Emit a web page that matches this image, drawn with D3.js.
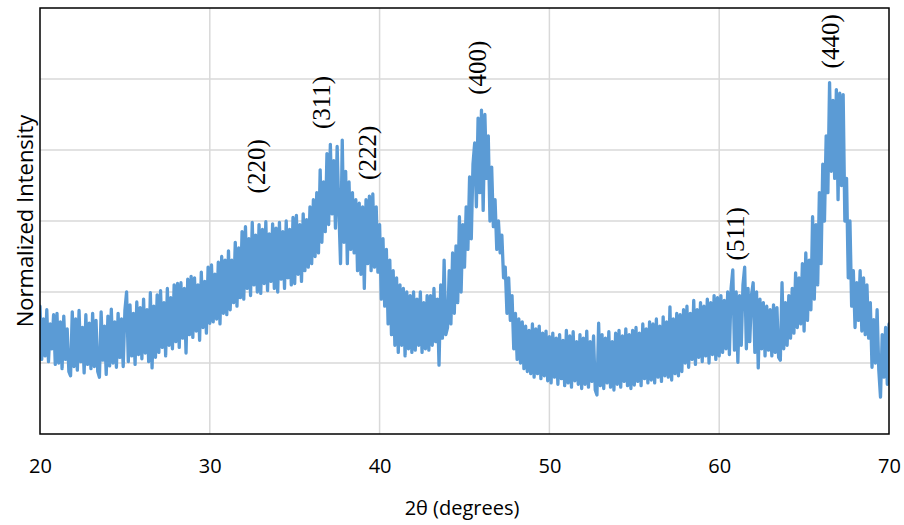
<!DOCTYPE html>
<html><head><meta charset="utf-8">
<script src="https://cdn.jsdelivr.net/npm/d3@7"></script>
<style>html,body{margin:0;padding:0;background:#fff;}</style>
</head><body>
<svg id="chart" width="904" height="525"></svg>
<script>
// 2θ sampling of the pattern
const angleStart = 20;
const angleStep = 0.1;
// Normalized intensity, one row per degree (20.0 .. 70.0)
const intensity = [
1.80,1.05,1.62,1.10,1.75,1.02,1.55,1.20,1.68,0.98,
1.70,1.00,1.58,0.92,1.66,1.05,1.48,0.88,0.82,1.72,
0.95,1.62,0.90,1.74,1.02,1.50,0.86,1.68,0.98,1.56,
0.92,1.70,0.95,1.60,0.88,0.80,1.72,1.04,1.52,0.84,
1.66,0.96,1.76,1.00,1.58,0.94,1.70,1.08,1.62,0.95,
1.74,2.00,1.02,1.82,1.10,1.70,0.98,1.86,1.12,1.78,
1.06,1.90,1.14,1.75,1.02,1.99,0.93,1.80,1.08,1.96,
1.15,2.02,1.22,1.85,1.10,2.05,1.25,1.92,1.20,2.10,
1.30,2.12,1.22,2.13,1.35,2.05,1.14,2.18,1.40,2.22,
1.36,2.20,1.45,2.10,1.32,2.28,1.50,2.15,1.42,2.35,
1.56,2.38,1.58,2.25,1.62,2.42,1.55,2.50,1.70,2.45,
1.68,2.58,1.75,2.45,1.85,2.70,1.80,2.62,1.92,2.85,
1.90,2.92,2.05,2.75,1.95,2.98,2.10,2.80,2.00,2.95,
1.98,2.88,2.12,2.99,2.02,2.82,2.15,2.96,2.05,2.90,
2.00,2.98,2.18,2.85,2.05,3.00,2.20,2.88,2.10,3.05,
2.12,3.08,2.25,2.95,2.15,3.10,2.30,3.02,2.35,3.20,
2.40,3.30,2.50,3.40,2.55,3.72,2.70,3.55,2.85,3.95,
2.95,4.08,3.10,3.85,2.90,4.05,3.15,2.40,4.14,2.70,
3.70,2.40,3.55,2.60,3.40,2.55,3.30,2.30,3.25,2.25,
3.20,2.05,3.30,2.40,3.35,2.30,3.38,2.35,3.20,2.28,
2.95,1.90,2.75,1.80,2.60,1.55,2.45,1.40,2.30,1.25,
2.20,1.15,2.10,1.25,2.05,1.10,2.00,1.20,1.95,1.15,
2.00,1.18,1.90,1.25,2.00,1.15,1.85,1.20,1.95,1.18,
1.95,1.25,2.05,1.30,1.90,0.97,2.10,1.35,2.45,1.40,
1.50,2.30,1.55,2.55,1.70,2.65,1.85,3.06,2.00,2.95,
2.35,3.20,2.60,3.62,2.75,3.80,4.10,3.20,4.45,3.40,
4.56,3.15,4.50,3.60,4.20,3.00,3.76,2.92,3.30,2.60,
3.00,2.55,2.80,2.20,2.35,1.70,2.20,1.60,1.95,1.20,
1.70,1.05,1.62,1.00,1.58,0.92,1.52,0.88,1.46,0.85,
1.55,0.80,1.48,0.85,1.52,0.78,1.42,0.82,1.45,0.75,
1.37,0.72,1.42,0.80,1.35,0.70,1.40,0.78,1.32,0.68,
1.46,0.72,1.38,0.66,1.44,0.75,1.30,0.70,1.40,0.64,
1.35,0.70,1.45,0.66,1.30,0.74,1.38,0.62,0.55,1.56,
0.68,1.40,0.64,1.35,0.72,1.44,0.66,1.30,0.62,1.42,
0.70,1.46,0.66,1.38,0.74,1.48,0.68,1.40,0.64,1.46,
0.69,1.50,0.74,1.42,0.68,1.55,0.78,1.48,0.72,1.58,
0.76,1.55,0.72,1.62,0.80,1.52,0.74,1.65,0.82,1.58,
0.80,1.79,0.76,1.62,0.85,1.70,0.82,1.68,0.88,1.75,
1.00,1.80,0.94,1.70,1.05,1.88,0.98,1.75,1.08,1.85,
1.02,1.80,1.10,1.90,1.00,1.85,1.12,1.95,1.05,1.92,
1.10,1.95,1.15,1.88,1.20,2.00,1.12,2.05,2.31,1.18,
2.00,1.01,1.95,1.25,2.10,2.35,1.20,2.05,1.30,1.95,
2.13,1.15,2.00,0.93,1.90,1.20,1.85,1.10,1.80,1.18,
1.75,1.10,1.82,1.15,1.78,1.08,1.04,2.13,1.20,1.85,
1.25,1.95,1.35,2.05,1.42,2.27,1.50,2.20,1.55,2.40,
1.45,2.55,1.60,2.45,1.75,3.06,1.90,2.95,2.10,3.40,
2.40,3.80,3.00,4.20,3.40,4.95,3.70,4.70,3.60,4.85,
3.30,4.80,3.50,4.78,3.00,3.60,2.20,3.00,1.80,2.30,
1.50,2.13,1.60,2.30,1.45,2.20,1.40,2.10,1.35,1.85,
0.94,1.61,1.00,1.75,0.90,0.52,1.40,0.80,1.50,0.70,
1.55
];
const xTicks = [20, 30, 40, 50, 60, 70];
const yGrid = [1, 2, 3, 4, 5];
const peakLabels = ["(220)", "(311)", "(222)", "(400)", "(511)", "(440)"];
const peakAngles = [32.8, 36.6, 39.3, 45.8, 61.0, 66.6];
const peakLevels = [3.77, 4.67, 3.96, 5.16, 2.82, 5.53];
const xTitle = "2θ (degrees)";
const yTitle = "Normalized Intensity";

const svg = d3.select("#chart");
const m = {left: 40, right: 15, top: 8, bottom: 91};
const W = 904, H = 525;
const x = d3.scaleLinear().domain([20, 70]).range([m.left, W - m.right]);
const y = d3.scaleLinear().domain([0, 6]).range([H - m.bottom, m.top]);

const data = intensity.map((v, i) => ({a: angleStart + i * angleStep, v}));

// grid
svg.append("g").selectAll("line.v").data(xTicks.slice(1, -1)).join("line")
  .attr("x1", d => x(d)).attr("x2", d => x(d))
  .attr("y1", y(0)).attr("y2", y(6))
  .attr("stroke", "#d9d9d9").attr("stroke-width", 1.5);
svg.append("g").selectAll("line.h").data(yGrid).join("line")
  .attr("x1", x(20)).attr("x2", x(70))
  .attr("y1", d => y(d)).attr("y2", d => y(d))
  .attr("stroke", "#d9d9d9").attr("stroke-width", 1.5);

// clip
svg.append("clipPath").attr("id", "clip").append("rect")
  .attr("x", x(20)).attr("y", y(6)).attr("width", x(70) - x(20)).attr("height", y(0) - y(6));

const line = d3.line().x(d => x(d.a)).y(d => y(d.v));
svg.append("path").datum(data)
  .attr("clip-path", "url(#clip)")
  .attr("d", line)
  .attr("fill", "none")
  .attr("stroke", "#5b9bd5")
  .attr("stroke-width", 3.3)
  .attr("stroke-linejoin", "round")
  .attr("stroke-linecap", "round");

// frame
svg.append("rect").attr("x", x(20)).attr("y", y(6))
  .attr("width", x(70) - x(20)).attr("height", y(0) - y(6))
  .attr("fill", "none").attr("stroke", "#000").attr("stroke-width", 1.5);

// x axis labels
const xAxis = d3.axisBottom(x).tickValues(xTicks).tickSize(0).tickPadding(25).tickFormat(d3.format("d"));
const gx = svg.append("g").attr("transform", `translate(0,${y(0)})`).call(xAxis);
gx.select(".domain").remove();
gx.selectAll("text").attr("font-family", "'Open Sans', sans-serif").attr("font-size", 20).attr("fill", "#000");

svg.append("text").attr("x", 462).attr("y", 515)
  .attr("text-anchor", "middle").attr("font-family", "'Open Sans', sans-serif")
  .attr("font-size", 20).attr("fill", "#000").text(xTitle);

svg.append("text").attr("transform", `translate(33,${(y(0) + y(6)) / 2}) rotate(-90)`)
  .attr("text-anchor", "middle").attr("font-family", "'Open Sans', sans-serif")
  .attr("font-size", 22).attr("fill", "#000").text(yTitle);

// peak labels
svg.append("g").selectAll("text").data(peakLabels).join("text")
  .attr("transform", (d, i) => `translate(${x(peakAngles[i]) + 8},${y(peakLevels[i])}) rotate(-90)`)
  .attr("text-anchor", "middle")
  .attr("font-family", "'Liberation Serif', 'Times New Roman', serif")
  .attr("font-size", 25).attr("fill", "#000")
  .text(d => d);
</script>
</body></html>
